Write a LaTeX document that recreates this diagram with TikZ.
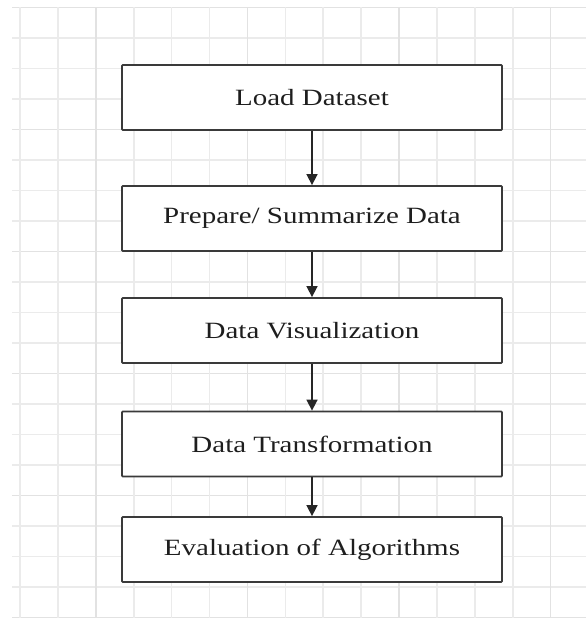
\documentclass[tikz,border=0pt]{standalone}
\usepackage{fontspec}
\usepackage{graphicx}
\setmainfont{Liberation Serif}
\usetikzlibrary{arrows.meta}
\definecolor{gridminor}{HTML}{EBEBEB}
\definecolor{gridmajor}{HTML}{E2E2E2}
\definecolor{boxline}{HTML}{3A3A3A}
\definecolor{txt}{HTML}{1E1E1E}
\newcommand{\wtxt}[1]{\scalebox{1.243}[1]{#1}}
\tikzset{
  stepbox/.style={draw=boxline, line width=1.8pt, fill=white, rounded corners=0.8pt,
    minimum width=380pt, minimum height=65pt, inner sep=0pt,
    text=txt, font=\fontsize{23.3}{27}\selectfont},
  flowarrow/.style={draw=black!85, line width=1.6pt,
    -{Triangle[width=11pt,length=11pt]}},
  gminor/.style={draw=gridminor, line width=1.6pt},
  gmajor/.style={draw=gridmajor, line width=1.6pt}
}
\begin{document}
\begin{tikzpicture}[x=1pt,y=-1pt]
\useasboundingbox (0,0) rectangle (586,620);
\fill[white] (0,0) rectangle (586,620);
% grid
\foreach \k in {0,...,20} {
  \pgfmathsetmacro{\yy}{7.5+30.5*\k}
  \pgfmathtruncatemacro{\mm}{mod(\k,4)}
  \ifnum\mm=0
    \draw[gmajor] (12,\yy) -- (586,\yy);
  \else
    \draw[gminor] (12,\yy) -- (586,\yy);
  \fi
}
\foreach \k in {0,...,14} {
  \pgfmathsetmacro{\xx}{20+37.9*\k}
  \pgfmathtruncatemacro{\mm}{mod(\k,4)}
  \ifnum\mm=2
    \draw[gmajor] (\xx,7.5) -- (\xx,617.5);
  \else
    \draw[gminor] (\xx,7.5) -- (\xx,617.5);
  \fi
}
% boxes
\node[stepbox] (b1) at (312,97.5) {\wtxt{Load Dataset}};
\node[stepbox] (b2) at (312,218.5) {\wtxt{Prepare/ Summarize Data}};
\node[stepbox] (b3) at (312,330.5) {\wtxt{Data Visualization}};
\node[stepbox] (b4) at (312,444) {\wtxt{Data Transformation}};
\node[stepbox] (b5) at (312,549.5) {\wtxt{Evaluation of Algorithms}};
% arrows
\draw[flowarrow] (b1) -- (b2);
\draw[flowarrow] (b2) -- (b3);
\draw[flowarrow] (b3) -- (b4);
\draw[flowarrow] (b4) -- (b5);
\end{tikzpicture}
\end{document}
